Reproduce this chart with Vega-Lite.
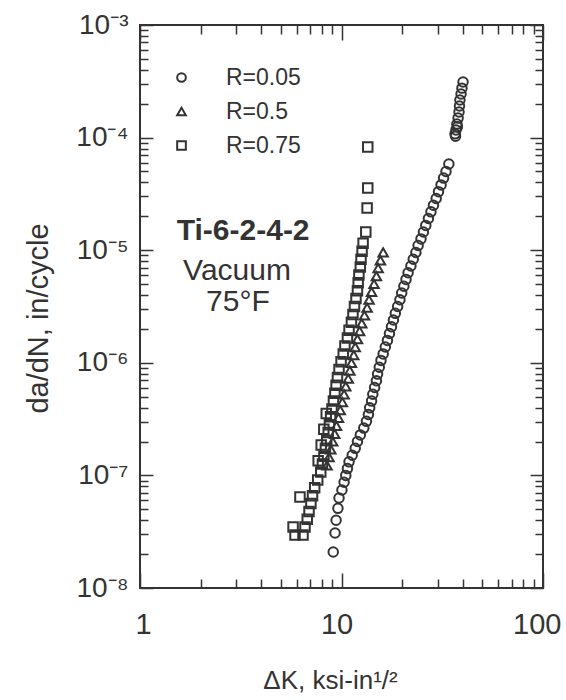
{
  "$schema": "https://vega.github.io/schema/vega-lite/v6.json",
  "width": 403,
  "height": 563,
  "autosize": {"type": "none"},
  "padding": {"left": 140, "top": 25, "right": 23, "bottom": 112},
  "background": "white",
  "config": {
    "view": {"stroke": "#333", "strokeWidth": 2},
    "font": "Liberation Sans",
    "axis": {
      "domain": false, "grid": false,
      "tickColor": "#333", "tickWidth": 1.5,
      "labelColor": "#333", "titleColor": "#333",
      "labelFont": "Liberation Sans", "titleFont": "Liberation Sans",
      "labelOverlap": false, "labelBound": false, "labelFlush": false,
      "titleFontWeight": "normal"
    }
  },
  "datasets": {
    "pts": [
      {"dK": 40.1, "dadN": 3.12e-4, "R": "R=0.05"},
      {"dK": 39.6, "dadN": 2.75e-4, "R": "R=0.05"},
      {"dK": 39.2, "dadN": 2.44e-4, "R": "R=0.05"},
      {"dK": 38.7, "dadN": 2.16e-4, "R": "R=0.05"},
      {"dK": 38.5, "dadN": 1.91e-4, "R": "R=0.05"},
      {"dK": 38.3, "dadN": 1.69e-4, "R": "R=0.05"},
      {"dK": 37.9, "dadN": 1.49e-4, "R": "R=0.05"},
      {"dK": 37.4, "dadN": 1.32e-4, "R": "R=0.05"},
      {"dK": 37.6, "dadN": 1.25e-4, "R": "R=0.05"},
      {"dK": 37.0, "dadN": 1.17e-4, "R": "R=0.05"},
      {"dK": 36.6, "dadN": 1.08e-4, "R": "R=0.05"},
      {"dK": 36.8, "dadN": 1.03e-4, "R": "R=0.05"},
      {"dK": 34.1, "dadN": 5.83e-5, "R": "R=0.05"},
      {"dK": 33.0, "dadN": 5.0e-5, "R": "R=0.05"},
      {"dK": 32.1, "dadN": 4.37e-5, "R": "R=0.05"},
      {"dK": 31.2, "dadN": 3.8e-5, "R": "R=0.05"},
      {"dK": 30.3, "dadN": 3.31e-5, "R": "R=0.05"},
      {"dK": 29.5, "dadN": 2.88e-5, "R": "R=0.05"},
      {"dK": 28.6, "dadN": 2.51e-5, "R": "R=0.05"},
      {"dK": 27.8, "dadN": 2.19e-5, "R": "R=0.05"},
      {"dK": 27.0, "dadN": 1.91e-5, "R": "R=0.05"},
      {"dK": 26.2, "dadN": 1.66e-5, "R": "R=0.05"},
      {"dK": 25.5, "dadN": 1.45e-5, "R": "R=0.05"},
      {"dK": 24.8, "dadN": 1.26e-5, "R": "R=0.05"},
      {"dK": 24.0, "dadN": 1.10e-5, "R": "R=0.05"},
      {"dK": 23.4, "dadN": 9.55e-6, "R": "R=0.05"},
      {"dK": 22.7, "dadN": 8.32e-6, "R": "R=0.05"},
      {"dK": 22.1, "dadN": 7.24e-6, "R": "R=0.05"},
      {"dK": 21.4, "dadN": 6.31e-6, "R": "R=0.05"},
      {"dK": 20.9, "dadN": 5.5e-6, "R": "R=0.05"},
      {"dK": 20.4, "dadN": 4.79e-6, "R": "R=0.05"},
      {"dK": 19.9, "dadN": 4.17e-6, "R": "R=0.05"},
      {"dK": 19.5, "dadN": 3.63e-6, "R": "R=0.05"},
      {"dK": 19.0, "dadN": 3.16e-6, "R": "R=0.05"},
      {"dK": 18.5, "dadN": 2.75e-6, "R": "R=0.05"},
      {"dK": 18.1, "dadN": 2.40e-6, "R": "R=0.05"},
      {"dK": 17.7, "dadN": 2.09e-6, "R": "R=0.05"},
      {"dK": 17.3, "dadN": 1.82e-6, "R": "R=0.05"},
      {"dK": 16.9, "dadN": 1.58e-6, "R": "R=0.05"},
      {"dK": 16.5, "dadN": 1.38e-6, "R": "R=0.05"},
      {"dK": 16.1, "dadN": 1.20e-6, "R": "R=0.05"},
      {"dK": 15.7, "dadN": 1.05e-6, "R": "R=0.05"},
      {"dK": 15.4, "dadN": 9.12e-7, "R": "R=0.05"},
      {"dK": 15.1, "dadN": 7.94e-7, "R": "R=0.05"},
      {"dK": 14.9, "dadN": 6.92e-7, "R": "R=0.05"},
      {"dK": 14.6, "dadN": 6.03e-7, "R": "R=0.05"},
      {"dK": 14.3, "dadN": 5.25e-7, "R": "R=0.05"},
      {"dK": 14.1, "dadN": 4.57e-7, "R": "R=0.05"},
      {"dK": 13.8, "dadN": 3.98e-7, "R": "R=0.05"},
      {"dK": 13.6, "dadN": 3.47e-7, "R": "R=0.05"},
      {"dK": 13.3, "dadN": 3.02e-7, "R": "R=0.05"},
      {"dK": 12.9, "dadN": 2.63e-7, "R": "R=0.05"},
      {"dK": 12.4, "dadN": 2.29e-7, "R": "R=0.05"},
      {"dK": 12.0, "dadN": 2.0e-7, "R": "R=0.05"},
      {"dK": 11.7, "dadN": 1.74e-7, "R": "R=0.05"},
      {"dK": 11.3, "dadN": 1.51e-7, "R": "R=0.05"},
      {"dK": 10.9, "dadN": 1.32e-7, "R": "R=0.05"},
      {"dK": 10.7, "dadN": 1.15e-7, "R": "R=0.05"},
      {"dK": 10.5, "dadN": 1.0e-7, "R": "R=0.05"},
      {"dK": 10.3, "dadN": 8.7e-8, "R": "R=0.05"},
      {"dK": 10.05, "dadN": 7.41e-8, "R": "R=0.05"},
      {"dK": 9.72, "dadN": 6.3e-8, "R": "R=0.05"},
      {"dK": 9.6, "dadN": 5.1e-8, "R": "R=0.05"},
      {"dK": 9.4, "dadN": 4.0e-8, "R": "R=0.05"},
      {"dK": 9.29, "dadN": 3.08e-8, "R": "R=0.05"},
      {"dK": 9.1, "dadN": 2.09e-8, "R": "R=0.05"},
      {"dK": 16.1, "dadN": 9.55e-6, "R": "R=0.5"},
      {"dK": 15.6, "dadN": 8.13e-6, "R": "R=0.5"},
      {"dK": 15.2, "dadN": 6.92e-6, "R": "R=0.5"},
      {"dK": 14.9, "dadN": 5.89e-6, "R": "R=0.5"},
      {"dK": 14.5, "dadN": 5.01e-6, "R": "R=0.5"},
      {"dK": 14.1, "dadN": 4.27e-6, "R": "R=0.5"},
      {"dK": 13.7, "dadN": 3.63e-6, "R": "R=0.5"},
      {"dK": 13.4, "dadN": 3.09e-6, "R": "R=0.5"},
      {"dK": 13.0, "dadN": 2.63e-6, "R": "R=0.5"},
      {"dK": 12.6, "dadN": 2.24e-6, "R": "R=0.5"},
      {"dK": 12.3, "dadN": 1.91e-6, "R": "R=0.5"},
      {"dK": 12.0, "dadN": 1.62e-6, "R": "R=0.5"},
      {"dK": 11.7, "dadN": 1.38e-6, "R": "R=0.5"},
      {"dK": 11.5, "dadN": 1.17e-6, "R": "R=0.5"},
      {"dK": 11.2, "dadN": 1.0e-6, "R": "R=0.5"},
      {"dK": 11.0, "dadN": 8.51e-7, "R": "R=0.5"},
      {"dK": 10.8, "dadN": 7.24e-7, "R": "R=0.5"},
      {"dK": 10.5, "dadN": 6.17e-7, "R": "R=0.5"},
      {"dK": 10.3, "dadN": 5.25e-7, "R": "R=0.5"},
      {"dK": 10.1, "dadN": 4.47e-7, "R": "R=0.5"},
      {"dK": 9.86, "dadN": 3.80e-7, "R": "R=0.5"},
      {"dK": 9.66, "dadN": 3.24e-7, "R": "R=0.5"},
      {"dK": 9.44, "dadN": 2.75e-7, "R": "R=0.5"},
      {"dK": 9.25, "dadN": 2.34e-7, "R": "R=0.5"},
      {"dK": 9.04, "dadN": 2.0e-7, "R": "R=0.5"},
      {"dK": 8.85, "dadN": 1.70e-7, "R": "R=0.5"},
      {"dK": 8.67, "dadN": 1.45e-7, "R": "R=0.5"},
      {"dK": 8.47, "dadN": 1.23e-7, "R": "R=0.5"},
      {"dK": 13.5, "dadN": 8.26e-5, "R": "R=0.75"},
      {"dK": 13.5, "dadN": 3.56e-5, "R": "R=0.75"},
      {"dK": 13.4, "dadN": 2.37e-5, "R": "R=0.75"},
      {"dK": 13.2, "dadN": 1.45e-5, "R": "R=0.75"},
      {"dK": 12.8, "dadN": 1.15e-5, "R": "R=0.75"},
      {"dK": 12.65, "dadN": 9.77e-6, "R": "R=0.75"},
      {"dK": 12.5, "dadN": 8.32e-6, "R": "R=0.75"},
      {"dK": 12.4, "dadN": 7.08e-6, "R": "R=0.75"},
      {"dK": 12.2, "dadN": 6.03e-6, "R": "R=0.75"},
      {"dK": 12.1, "dadN": 5.13e-6, "R": "R=0.75"},
      {"dK": 12.0, "dadN": 4.37e-6, "R": "R=0.75"},
      {"dK": 11.8, "dadN": 3.72e-6, "R": "R=0.75"},
      {"dK": 11.6, "dadN": 3.16e-6, "R": "R=0.75"},
      {"dK": 11.4, "dadN": 2.69e-6, "R": "R=0.75"},
      {"dK": 11.2, "dadN": 2.29e-6, "R": "R=0.75"},
      {"dK": 10.9, "dadN": 1.95e-6, "R": "R=0.75"},
      {"dK": 10.7, "dadN": 1.66e-6, "R": "R=0.75"},
      {"dK": 10.4, "dadN": 1.41e-6, "R": "R=0.75"},
      {"dK": 10.2, "dadN": 1.20e-6, "R": "R=0.75"},
      {"dK": 9.95, "dadN": 1.02e-6, "R": "R=0.75"},
      {"dK": 9.72, "dadN": 8.71e-7, "R": "R=0.75"},
      {"dK": 9.55, "dadN": 7.41e-7, "R": "R=0.75"},
      {"dK": 9.40, "dadN": 6.31e-7, "R": "R=0.75"},
      {"dK": 9.27, "dadN": 5.37e-7, "R": "R=0.75"},
      {"dK": 9.12, "dadN": 4.57e-7, "R": "R=0.75"},
      {"dK": 8.97, "dadN": 3.89e-7, "R": "R=0.75"},
      {"dK": 8.83, "dadN": 3.31e-7, "R": "R=0.75"},
      {"dK": 8.71, "dadN": 2.82e-7, "R": "R=0.75"},
      {"dK": 8.59, "dadN": 2.40e-7, "R": "R=0.75"},
      {"dK": 8.45, "dadN": 2.04e-7, "R": "R=0.75"},
      {"dK": 8.32, "dadN": 1.74e-7, "R": "R=0.75"},
      {"dK": 8.18, "dadN": 1.48e-7, "R": "R=0.75"},
      {"dK": 8.04, "dadN": 1.26e-7, "R": "R=0.75"},
      {"dK": 7.89, "dadN": 1.07e-7, "R": "R=0.75"},
      {"dK": 7.62, "dadN": 9.12e-8, "R": "R=0.75"},
      {"dK": 7.36, "dadN": 7.76e-8, "R": "R=0.75"},
      {"dK": 7.18, "dadN": 6.61e-8, "R": "R=0.75"},
      {"dK": 7.05, "dadN": 5.62e-8, "R": "R=0.75"},
      {"dK": 6.90, "dadN": 4.79e-8, "R": "R=0.75"},
      {"dK": 6.76, "dadN": 4.07e-8, "R": "R=0.75"},
      {"dK": 8.4, "dadN": 3.55e-7, "R": "R=0.75"},
      {"dK": 8.17, "dadN": 2.57e-7, "R": "R=0.75"},
      {"dK": 7.93, "dadN": 1.86e-7, "R": "R=0.75"},
      {"dK": 7.66, "dadN": 1.35e-7, "R": "R=0.75"},
      {"dK": 6.59, "dadN": 3.48e-8, "R": "R=0.75"},
      {"dK": 6.44, "dadN": 2.96e-8, "R": "R=0.75"},
      {"dK": 5.88, "dadN": 2.96e-8, "R": "R=0.75"},
      {"dK": 5.75, "dadN": 3.48e-8, "R": "R=0.75"},
      {"dK": 6.22, "dadN": 6.43e-8, "R": "R=0.75"}
    ]
  },
  "layer": [
    {
      "data": {"name": "pts"},
      "mark": {"type": "point", "filled": false, "stroke": "#333", "strokeWidth": 2, "size": 90, "opacity": 1},
      "encoding": {
        "x": {
          "field": "dK", "type": "quantitative",
          "scale": {"type": "log", "domain": [1, 100]},
          "axis": {
            "orient": "bottom",
            "values": [1,2,3,4,5,6,7,8,9,10,20,30,40,50,60,70,80,90,100],
            "tickSize": {"condition": {"test": "abs(log(datum.value)/LN10 - round(log(datum.value)/LN10)) < 0.01", "value": -15}, "value": -9},
            "labelPadding": 37,
            "labelFontSize": 29,
            "labelAlign": {"condition": {"test": "datum.value >= 100", "value": "right"}, "value": "center"},
            "labelOffset": {"condition": [{"test": "datum.value >= 100", "value": 18}, {"test": "datum.value < 2", "value": 3}], "value": -5},
            "labelExpr": "abs(log(datum.value)/LN10 - round(log(datum.value)/LN10)) < 0.01 ? '' + datum.value : ''",
            "title": "ΔK, ksi-in¹/²",
            "titleFontSize": 26,
            "titleX": 190, "titleY": 92,
            "titleAlign": "center", "titleBaseline": "middle"
          }
        },
        "y": {
          "field": "dadN", "type": "quantitative",
          "scale": {"type": "log", "domain": [1e-8, 1e-3]},
          "axis": {
            "orient": "left",
            "values": [1e-8,2e-8,3e-8,4e-8,5e-8,6e-8,7e-8,8e-8,9e-8,1e-7,2e-7,3e-7,4e-7,5e-7,6e-7,7e-7,8e-7,9e-7,1e-6,2e-6,3e-6,4e-6,5e-6,6e-6,7e-6,8e-6,9e-6,1e-5,2e-5,3e-5,4e-5,5e-5,6e-5,7e-5,8e-5,9e-5,1e-4,2e-4,3e-4,4e-4,5e-4,6e-4,7e-4,8e-4,9e-4,1e-3],
            "tickSize": {"condition": {"test": "abs(log(datum.value)/LN10 - round(log(datum.value)/LN10)) < 0.01", "value": -13}, "value": -8},
            "labelPadding": 25,
            "labelFontSize": 28,
            "labelExpr": "abs(log(datum.value)/LN10 - round(log(datum.value)/LN10)) < 0.01 ? ['10⁻⁸','10⁻⁷','10⁻⁶','10⁻⁵','10⁻⁴','10⁻³'][round(log(datum.value)/LN10)+8] : ''",
            "title": "da/dN, in/cycle",
            "titleFontSize": 29,
            "titleX": -102, "titleY": 293,
            "titleAngle": -90,
            "titleAlign": "center", "titleBaseline": "middle"
          }
        },
        "shape": {
          "field": "R", "type": "nominal",
          "scale": {"domain": ["R=0.05", "R=0.5", "R=0.75"], "range": ["circle", "triangle-up", "square"]},
          "legend": {
            "title": null, "orient": "none", "legendX": 30, "legendY": 41,
            "labelFontSize": 23, "labelColor": "#333", "labelFont": "Liberation Sans",
            "symbolSize": 75, "symbolStrokeColor": "#333", "symbolStrokeWidth": 2,
            "symbolFillColor": "transparent",
            "labelOffset": 33, "rowPadding": 10, "padding": 0
          }
        }
      }
    },
    {
      "data": {"values": [{"dK": 3.25, "dadN": 1.48e-5, "txt": "Ti-6-2-4-2"}]},
      "mark": {"type": "text", "fontSize": 30, "fontWeight": "bold", "color": "#333", "font": "Liberation Sans", "align": "center", "baseline": "middle"},
      "encoding": {
        "x": {
          "field": "dK", "type": "quantitative",
          "scale": {"type": "log", "domain": [1, 100]},
          "axis": {
            "orient": "top",
            "values": [1,2,3,4,5,6,7,8,9,10,20,30,40,50,60,70,80,90,100],
            "tickSize": {"condition": {"test": "abs(log(datum.value)/LN10 - round(log(datum.value)/LN10)) < 0.01", "value": -15}, "value": -9},
            "labels": false, "title": null
          }
        },
        "y": {
          "field": "dadN", "type": "quantitative",
          "scale": {"type": "log", "domain": [1e-8, 1e-3]},
          "axis": {
            "orient": "right",
            "values": [1e-8,2e-8,3e-8,4e-8,5e-8,6e-8,7e-8,8e-8,9e-8,1e-7,2e-7,3e-7,4e-7,5e-7,6e-7,7e-7,8e-7,9e-7,1e-6,2e-6,3e-6,4e-6,5e-6,6e-6,7e-6,8e-6,9e-6,1e-5,2e-5,3e-5,4e-5,5e-5,6e-5,7e-5,8e-5,9e-5,1e-4,2e-4,3e-4,4e-4,5e-4,6e-4,7e-4,8e-4,9e-4,1e-3],
            "tickSize": {"condition": {"test": "abs(log(datum.value)/LN10 - round(log(datum.value)/LN10)) < 0.01", "value": -13}, "value": -8},
            "labels": false, "title": null
          }
        },
        "text": {"field": "txt", "type": "nominal"}
      }
    },
    {
      "data": {"values": [{"dK": 3.03, "dadN": 6.53e-6, "txt": "Vacuum"}, {"dK": 3.06, "dadN": 3.47e-6, "txt": "75°F"}]},
      "mark": {"type": "text", "fontSize": 30, "color": "#333", "font": "Liberation Sans", "align": "center", "baseline": "middle"},
      "encoding": {
        "x": {"field": "dK", "type": "quantitative", "scale": {"type": "log", "domain": [1, 100]}, "axis": null},
        "y": {"field": "dadN", "type": "quantitative", "scale": {"type": "log", "domain": [1e-8, 1e-3]}, "axis": null},
        "text": {"field": "txt", "type": "nominal"}
      }
    }
  ],
  "resolve": {"axis": {"x": "independent", "y": "independent"}}
}
